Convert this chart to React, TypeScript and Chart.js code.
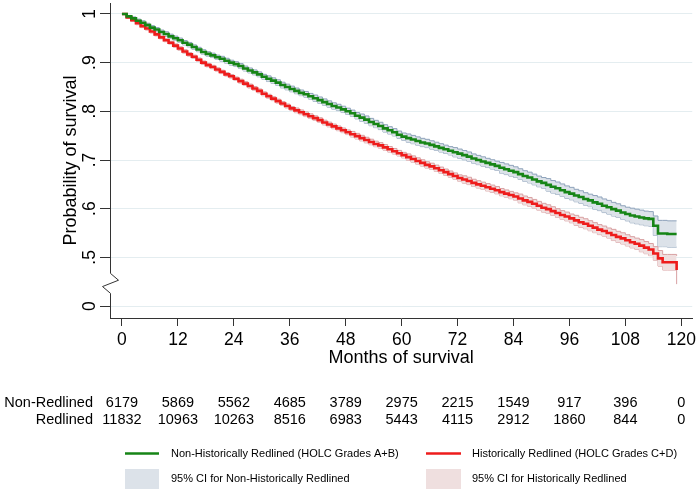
import React, { useEffect, useRef } from 'react';
import { Chart, registerables } from 'chart.js';
Chart.register(...registerables);

const FONT = '"Liberation Sans", Arial, sans-serif';

// months 0..119 (Kaplan-Meier step positions)
const months: number[] = Array.from({ length: 120 }, (_, i) => i);

const nonRedlinedSurv: number[] = [
  1.000, 0.995, 0.991, 0.986, 0.982, 0.977, 0.972, 0.968, 0.963, 0.959,
  0.954, 0.950, 0.946, 0.941, 0.937, 0.932, 0.927, 0.922, 0.918, 0.915,
  0.911, 0.908, 0.904, 0.900, 0.897, 0.893, 0.888, 0.884, 0.880, 0.876,
  0.871, 0.867, 0.863, 0.859, 0.854, 0.850, 0.846, 0.842, 0.838, 0.835,
  0.831, 0.827, 0.823, 0.819, 0.815, 0.811, 0.808, 0.804, 0.800, 0.796,
  0.791, 0.787, 0.783, 0.778, 0.774, 0.770, 0.765, 0.761, 0.757, 0.752,
  0.748, 0.745, 0.742, 0.739, 0.736, 0.734, 0.731, 0.728, 0.725, 0.722,
  0.719, 0.716, 0.713, 0.710, 0.707, 0.703, 0.700, 0.697, 0.694, 0.691,
  0.688, 0.684, 0.681, 0.678, 0.675, 0.671, 0.667, 0.664, 0.660, 0.656,
  0.653, 0.649, 0.645, 0.642, 0.638, 0.634, 0.631, 0.627, 0.624, 0.620,
  0.617, 0.613, 0.610, 0.606, 0.603, 0.599, 0.596, 0.592, 0.589, 0.586,
  0.584, 0.582, 0.580, 0.579, 0.565, 0.549, 0.549, 0.548, 0.548, 0.548,
];

const redlinedSurv: number[] = [
  1.000, 0.993, 0.987, 0.981, 0.975, 0.970, 0.964, 0.958, 0.952, 0.946,
  0.941, 0.935, 0.929, 0.923, 0.917, 0.912, 0.906, 0.900, 0.895, 0.891,
  0.886, 0.881, 0.876, 0.872, 0.867, 0.862, 0.857, 0.852, 0.847, 0.842,
  0.836, 0.831, 0.826, 0.821, 0.816, 0.811, 0.806, 0.802, 0.798, 0.794,
  0.790, 0.786, 0.782, 0.777, 0.773, 0.769, 0.765, 0.761, 0.757, 0.753,
  0.749, 0.745, 0.741, 0.737, 0.733, 0.730, 0.726, 0.722, 0.718, 0.714,
  0.710, 0.706, 0.702, 0.698, 0.694, 0.690, 0.687, 0.683, 0.679, 0.675,
  0.671, 0.667, 0.663, 0.660, 0.657, 0.653, 0.650, 0.647, 0.644, 0.641,
  0.638, 0.634, 0.631, 0.628, 0.625, 0.621, 0.617, 0.614, 0.610, 0.606,
  0.602, 0.599, 0.595, 0.591, 0.587, 0.584, 0.580, 0.576, 0.572, 0.569,
  0.565, 0.561, 0.557, 0.554, 0.550, 0.546, 0.542, 0.539, 0.535, 0.531,
  0.528, 0.524, 0.520, 0.516, 0.508, 0.498, 0.490, 0.490, 0.490, 0.474,
];

// half-widths of the 95% confidence bands
const nonRedlinedCIHalf: number[] = [
  0, 0.002, 0.003, 0.0035, 0.004, 0.004, 0.004, 0.004, 0.004, 0.0045,
  0.0045, 0.0045, 0.0045, 0.0045, 0.0045, 0.0045, 0.0045, 0.0045, 0.0045, 0.0045,
  0.0045, 0.005, 0.005, 0.005, 0.005, 0.005, 0.005, 0.005, 0.005, 0.005,
  0.005, 0.0058, 0.0058, 0.0058, 0.0058, 0.0058, 0.0058, 0.0058, 0.0058, 0.0058,
  0.0058, 0.0065, 0.0065, 0.0065, 0.0065, 0.0065, 0.0065, 0.0065, 0.0065, 0.0065,
  0.0065, 0.0075, 0.0075, 0.0075, 0.0075, 0.0075, 0.0075, 0.0075, 0.0075, 0.0075,
  0.0075, 0.0085, 0.0085, 0.0085, 0.0085, 0.0085, 0.0085, 0.0085, 0.0085, 0.0085,
  0.0085, 0.0095, 0.0095, 0.0095, 0.0095, 0.0095, 0.0095, 0.0095, 0.0095, 0.0095,
  0.0095, 0.011, 0.011, 0.011, 0.011, 0.011, 0.011, 0.011, 0.011, 0.011,
  0.011, 0.0128, 0.0128, 0.0128, 0.0128, 0.0128, 0.0128, 0.0128, 0.0128, 0.0128,
  0.0128, 0.014, 0.014, 0.014, 0.014, 0.014, 0.014, 0.014, 0.014, 0.015,
  0.015, 0.015, 0.015, 0.015, 0.02, 0.027, 0.027, 0.027, 0.027, 0.027,
];

const redlinedCIHalf: number[] = [
  0, 0.002, 0.0025, 0.003, 0.003, 0.003, 0.003, 0.003, 0.003, 0.003,
  0.003, 0.0035, 0.0035, 0.0035, 0.0035, 0.0035, 0.0035, 0.0035, 0.0035, 0.0035,
  0.0035, 0.0035, 0.0035, 0.0035, 0.0035, 0.004, 0.004, 0.004, 0.004, 0.004,
  0.004, 0.004, 0.004, 0.004, 0.004, 0.004, 0.004, 0.0048, 0.0048, 0.0048,
  0.0048, 0.0048, 0.0048, 0.0048, 0.0048, 0.0048, 0.0048, 0.0048, 0.0048, 0.0057,
  0.0057, 0.0057, 0.0057, 0.0057, 0.0057, 0.0057, 0.0057, 0.0057, 0.0057, 0.0057,
  0.0057, 0.0065, 0.0065, 0.0065, 0.0065, 0.0065, 0.0065, 0.0065, 0.0065, 0.0065,
  0.0065, 0.0065, 0.0065, 0.0075, 0.0075, 0.0075, 0.0075, 0.0075, 0.0075, 0.0075,
  0.0075, 0.0075, 0.0075, 0.0075, 0.0075, 0.009, 0.009, 0.009, 0.009, 0.009,
  0.009, 0.009, 0.009, 0.009, 0.009, 0.009, 0.009, 0.0103, 0.0103, 0.0103,
  0.0103, 0.0103, 0.0103, 0.0103, 0.0103, 0.0115, 0.0115, 0.0115, 0.0115, 0.0115,
  0.0115, 0.0125, 0.0125, 0.0125, 0.014, 0.016, 0.016, 0.016, 0.016, 0.029,
];

const xTickValues: number[] = [0, 12, 24, 36, 48, 60, 72, 84, 96, 108, 120];
const yTickValues: number[] = [0.4, 0.5, 0.6, 0.7, 0.8, 0.9, 1.0];
const yTickLabels: string[] = ['0', '.5', '.6', '.7', '.8', '.9', '1'];

const riskRowLabels: string[] = ['Non-Redlined', 'Redlined'];
const atRiskNonRedlined: number[] = [6179, 5869, 5562, 4685, 3789, 2975, 2215, 1549, 917, 396, 0];
const atRiskRedlined: number[] = [11832, 10963, 10263, 8516, 6983, 5443, 4115, 2912, 1860, 844, 0];

const legendLabels: string[] = [
  'Non-Historically Redlined (HOLC Grades A+B)',
  'Historically Redlined (HOLC Grades C+D)',
  '95% CI for Non-Historically Redlined',
  '95% CI for Historically Redlined',
];

const GREEN = '#168516';
const RED = '#ee1c1c';
const G_CI_LINE = '#8fa3bb';
const G_CI_FILL = '#dce2e9';
const R_CI_LINE = '#d9a1a3';
const R_CI_FILL = '#efdfdf';

const overlayPlugin = {
  id: 'overlay',
  afterDraw(chart: any) {
    const ctx: CanvasRenderingContext2D = chart.ctx;
    const xs = chart.scales.x;
    const ys = chart.scales.y;
    const area = chart.chartArea;
    ctx.save();

    // y axis line with break
    const ax = Math.round(area.left) + 0.5;
    ctx.strokeStyle = '#333';
    ctx.lineWidth = 1;
    ctx.beginPath();
    ctx.moveTo(ax, area.top);
    ctx.lineTo(ax, ys.getPixelForValue(0.467));
    ctx.lineTo(ax + 8, ys.getPixelForValue(0.453));
    ctx.lineTo(ax - 8, ys.getPixelForValue(0.440));
    ctx.lineTo(ax, ys.getPixelForValue(0.426));
    ctx.lineTo(ax, area.bottom + 0.5);
    ctx.stroke();

    // y tick labels (rotated)
    ctx.fillStyle = '#000';
    ctx.font = `17.5px ${FONT}`;
    ctx.textAlign = 'center';
    ctx.textBaseline = 'alphabetic';
    yTickValues.forEach((v, i) => {
      const py = ys.getPixelForValue(v);
      ctx.save();
      ctx.translate(95, py);
      ctx.rotate(-Math.PI / 2);
      ctx.fillText(yTickLabels[i], 0, 0);
      ctx.restore();
    });

    // number at risk table
    ctx.font = `14.5px ${FONT}`;
    ctx.textBaseline = 'middle';
    const rows = [atRiskNonRedlined, atRiskRedlined];
    const rowY = [403, 420];
    rows.forEach((row, r) => {
      ctx.textAlign = 'right';
      ctx.fillText(riskRowLabels[r], 93, rowY[r]);
      ctx.textAlign = 'center';
      row.forEach((n, i) => {
        ctx.fillText(String(n), xs.getPixelForValue(xTickValues[i]), rowY[r]);
      });
    });

    // legend
    ctx.font = `11px ${FONT}`;
    ctx.textAlign = 'left';
    const l1 = 453.5;
    const l2 = 479;
    ctx.lineWidth = 2.5;
    ctx.strokeStyle = GREEN;
    ctx.beginPath(); ctx.moveTo(125, l1); ctx.lineTo(159, l1); ctx.stroke();
    ctx.strokeStyle = RED;
    ctx.beginPath(); ctx.moveTo(426, l1); ctx.lineTo(461, l1); ctx.stroke();
    ctx.fillStyle = '#000';
    ctx.fillText(legendLabels[0], 171, l1);
    ctx.fillText(legendLabels[1], 472, l1);
    ctx.fillStyle = G_CI_FILL;
    ctx.fillRect(125, 469, 34, 20);
    ctx.fillStyle = R_CI_FILL;
    ctx.fillRect(426, 469, 35, 20);
    ctx.fillStyle = '#000';
    ctx.fillText(legendLabels[2], 171, l2);
    ctx.fillText(legendLabels[3], 472, l2);

    ctx.restore();
  },
};

export default function App() {
  const ref = useRef<HTMLCanvasElement | null>(null);

  useEffect(() => {
    if (!ref.current) return;
    const pts = (vals: number[]) => months.map((m, i) => ({ x: m, y: vals[i] }));
    const upper = (s: number[], h: number[]) => months.map((m, i) => ({ x: m, y: s[i] + h[i] }));
    const lower = (s: number[], h: number[]) => months.map((m, i) => ({ x: m, y: s[i] - h[i] }));

    const common = { stepped: true as const, pointRadius: 0, pointHoverRadius: 0, tension: 0 };

    const chart = new Chart(ref.current, {
      type: 'line',
      data: {
        datasets: [
          { ...common, label: 'Non-Historically Redlined', data: pts(nonRedlinedSurv), borderColor: GREEN, borderWidth: 2.6, fill: false, order: 0 },
          { ...common, label: 'Historically Redlined', data: pts(redlinedSurv), borderColor: RED, borderWidth: 2.6, fill: false, order: 0 },
          { ...common, label: 'gU', data: upper(nonRedlinedSurv, nonRedlinedCIHalf), borderColor: G_CI_LINE, borderWidth: 1, backgroundColor: G_CI_FILL, fill: '+1', order: 2 },
          { ...common, label: 'gL', data: lower(nonRedlinedSurv, nonRedlinedCIHalf), borderColor: G_CI_LINE, borderWidth: 1, fill: false, order: 2 },
          { ...common, label: 'rU', data: upper(redlinedSurv, redlinedCIHalf), borderColor: R_CI_LINE, borderWidth: 1, backgroundColor: R_CI_FILL, fill: '+1', order: 1 },
          { ...common, label: 'rL', data: lower(redlinedSurv, redlinedCIHalf), borderColor: R_CI_LINE, borderWidth: 1, fill: false, order: 1 },
        ],
      },
      options: {
        responsive: false,
        animation: false,
        events: [],
        layout: { padding: { left: 0, right: 6, top: 3, bottom: 121 } },
        plugins: { legend: { display: false }, tooltip: { enabled: false } },
        scales: {
          x: {
            type: 'linear',
            min: -2.567,
            max: 122.35,
            afterBuildTicks: (s: any) => { s.ticks = xTickValues.map((v) => ({ value: v })); },
            afterFit: (s: any) => { s.height = 51; },
            grid: { drawOnChartArea: false, drawTicks: true, tickLength: 8, tickColor: '#333', color: '#333' },
            border: { display: true, color: '#333', width: 1 },
            ticks: { font: { family: FONT, size: 17.5 }, color: '#000', padding: 4, maxRotation: 0, minRotation: 0, autoSkip: false, callback: (v: any) => String(v) },
            title: { display: true, text: 'Months of survival', font: { family: FONT, size: 18 }, color: '#000', padding: { top: 0, bottom: 0 } },
          },
          y: {
            type: 'linear',
            min: 0.37541,
            max: 1.02254,
            afterBuildTicks: (s: any) => { s.ticks = yTickValues.map((v) => ({ value: v })); },
            afterFit: (s: any) => { s.width = 110; },
            grid: { color: '#e4edf0', tickColor: '#333', tickLength: 10, drawTicks: true, lineWidth: 1 },
            border: { display: false },
            ticks: { display: false },
            title: { display: true, text: 'Probability of survival', font: { family: FONT, size: 18 }, color: '#000', padding: { top: 60, bottom: 0 } },
          },
        },
      },
      plugins: [overlayPlugin],
    } as any);
    return () => chart.destroy();
  }, []);

  return (
    <div style={{ position: 'absolute', left: 0, top: 0, width: 700, height: 490, background: '#fff' }}>
      <canvas ref={ref} width={700} height={490} style={{ display: 'block' }} />
    </div>
  );
}
